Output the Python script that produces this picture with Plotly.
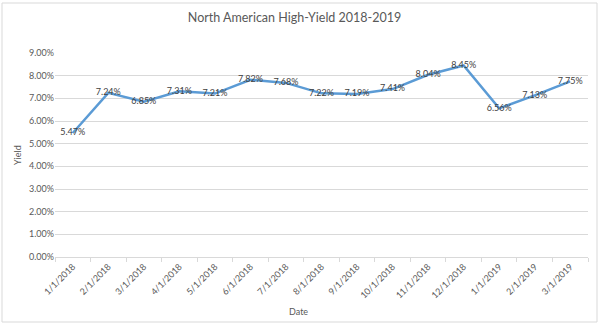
import plotly.graph_objects as go

dates = ["1/1/2018", "2/1/2018", "3/1/2018", "4/1/2018", "5/1/2018", "6/1/2018",
         "7/1/2018", "8/1/2018", "9/1/2018", "10/1/2018", "11/1/2018", "12/1/2018",
         "1/1/2019", "2/1/2019", "3/1/2019"]
yield_pct = [5.47, 7.24, 6.85, 7.31, 7.21, 7.82, 7.68, 7.22, 7.19, 7.41, 8.04, 8.45,
             6.56, 7.13, 7.75]
y_ticks = [0, 1, 2, 3, 4, 5, 6, 7, 8, 9]

yvals = [v / 100 for v in yield_pct]

W, H = 600, 324
L, R, T, B = 55, 12, 53, 67

fig = go.Figure()
fig.add_trace(go.Scatter(
    x=dates, y=yvals, mode="lines+text",
    line=dict(color="#5B9BD5", width=2.5),
    texttemplate="%{y:.2%}", textposition="middle center",
    textfont=dict(family="Lato, Open Sans, sans-serif", size=9, color="#404040"),
    hoverinfo="skip", cliponaxis=False,
))

fig.update_layout(
    width=W, height=H,
    margin=dict(l=L, r=R, t=T, b=B),
    paper_bgcolor="white", plot_bgcolor="white",
    showlegend=False,
    title=dict(text="North American High-Yield 2018-2019",
               x=294.5 / W, xref="container", xanchor="center",
               y=1 - 18 / H, yref="container", yanchor="middle",
               font=dict(family="Lato, Open Sans, sans-serif", size=12.5, color="#595959")),
    xaxis=dict(
        type="category", tickson="boundaries", ticks="outside", ticklen=4,
        tickcolor="#D9D9D9", showline=True, linecolor="#D9D9D9", linewidth=1,
        showgrid=False, tickangle=-45,
        tickfont=dict(family="Lato, Open Sans, sans-serif", size=9, color="#595959"),
        range=[-0.5, len(dates) - 0.5],
    ),
    yaxis=dict(
        range=[0, 0.09], tickvals=[t / 100 for t in y_ticks], tickformat=".2%",
        showgrid=True, gridcolor="#D9D9D9", gridwidth=1, zeroline=False,
        showline=False, ticks="",
        tickfont=dict(family="Lato, Open Sans, sans-serif", size=9, color="#595959"),
    ),
    annotations=[
        dict(text="Yield", xref="paper", yref="paper",
             x=(17 - L) / (W - L - R), y=(H - B - 155) / (H - T - B),
             textangle=-90, showarrow=False, xanchor="center", yanchor="middle",
             font=dict(family="Lato, Open Sans, sans-serif", size=9, color="#595959")),
        dict(text="Date", xref="paper", yref="paper",
             x=(298 - L) / (W - L - R), y=(H - B - 311) / (H - T - B),
             showarrow=False, xanchor="center", yanchor="middle",
             font=dict(family="Lato, Open Sans, sans-serif", size=9, color="#595959")),
    ],
    shapes=[
        dict(type="rect", xref="paper", yref="paper", layer="below",
             x0=(2 - L) / (W - L - R), x1=(597 - L) / (W - L - R),
             y0=(H - B - 322) / (H - T - B), y1=(H - B - 3) / (H - T - B),
             line=dict(color="#D9D9D9", width=1)),
    ],
)

fig.write_html("out.html")
